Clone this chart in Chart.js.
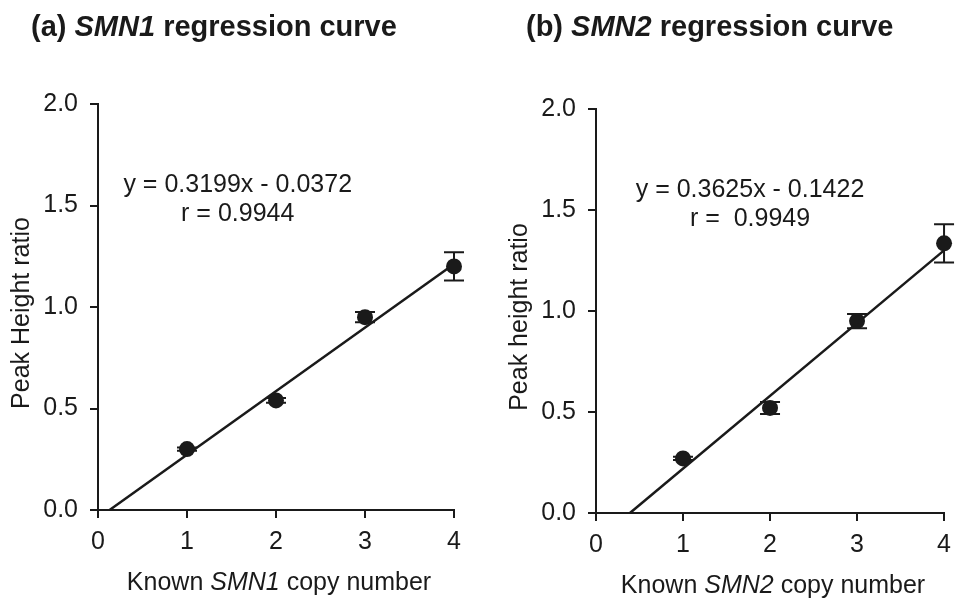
<!DOCTYPE html>
<html>
<head>
<meta charset="utf-8">
<script src="https://cdn.jsdelivr.net/npm/chart.js@4.4.1/dist/chart.umd.min.js"></script>
<style>
  html, body { margin: 0; padding: 0; background: #fff; }
  #wrap { position: relative; width: 960px; height: 605px; overflow: hidden; }
  canvas { position: absolute; top: 0; }
</style>
</head>
<body>
<div id="wrap">
  <canvas id="chart-a" width="480" height="605" style="left:0"></canvas>
  <canvas id="chart-b" width="480" height="605" style="left:480px"></canvas>
</div>
<script>
const xTicks = [0, 1, 2, 3, 4];
const yTicks = [0, 0.5, 1.0, 1.5, 2.0];

// (a) SMN1
const smn1Copies = [1, 2, 3, 4];
const smn1Ratio = [0.30, 0.54, 0.95, 1.20];
const smn1Err = [0.008, 0.012, 0.025, 0.07];
const smn1FitX = [0.13, 3.93];
const smn1FitY = [0, 1.19];
const smn1Equation = ["y = 0.3199x - 0.0372", "r = 0.9944"];

// (b) SMN2
const smn2Copies = [1, 2, 3, 4];
const smn2Ratio = [0.27, 0.52, 0.95, 1.335];
const smn2Err = [0.008, 0.03, 0.035, 0.095];
const smn2FitX = [0.39, 4.0];
const smn2FitY = [0, 1.30];
const smn2Equation = ["y = 0.3625x - 0.1422", "r =  0.9949"];

const INK = "#1a1a1a";
const FONT = "'Liberation Sans', Arial, Helvetica, sans-serif";

function drawMixed(ctx, parts, x, y, size, bold, align) {
  const fontFor = (p) => `${p.italic ? "italic " : ""}${bold ? "bold " : ""}${size}px ${FONT}`;
  let total = 0;
  parts.forEach((p) => {
    ctx.font = fontFor(p);
    total += ctx.measureText(p.text).width;
  });
  let cx = align === "center" ? x - total / 2 : x;
  ctx.textAlign = "left";
  parts.forEach((p) => {
    ctx.font = fontFor(p);
    ctx.fillText(p.text, cx, y);
    cx += ctx.measureText(p.text).width;
  });
}

const panelPlugin = {
  id: "panel",
  beforeDatasetsDraw(chart, args, opts) {
    const { ctx, scales } = chart;
    ctx.save();
    ctx.strokeStyle = INK;
    ctx.lineWidth = 2;
    opts.copies.forEach((c, i) => {
      const px = scales.x.getPixelForValue(c);
      const top = scales.y.getPixelForValue(opts.ratio[i] + opts.err[i]);
      const bot = scales.y.getPixelForValue(opts.ratio[i] - opts.err[i]);
      ctx.beginPath();
      ctx.moveTo(px, top); ctx.lineTo(px, bot);
      ctx.moveTo(px - 10, top); ctx.lineTo(px + 10, top);
      ctx.moveTo(px - 10, bot); ctx.lineTo(px + 10, bot);
      ctx.stroke();
    });
    ctx.restore();
  },
  afterDraw(chart, args, opts) {
    const { ctx, chartArea, scales } = chart;
    ctx.save();
    ctx.fillStyle = INK;
    ctx.textBaseline = "alphabetic";
    drawMixed(ctx, opts.title, opts.titleX, 36, 29, true, "left");

    ctx.textBaseline = "middle";
    const ex = scales.x.getPixelForValue(opts.eqAt[0]);
    const ey = scales.y.getPixelForValue(opts.eqAt[1]);
    ctx.font = `25px ${FONT}`;
    ctx.textAlign = "center";
    ctx.fillText(opts.equation[0], ex, ey);
    ctx.fillText(opts.equation[1], ex, ey + 29);

    drawMixed(ctx, opts.xTitle, (chartArea.left + chartArea.right) / 2 + 3, chartArea.bottom + 73, 25, false, "center");

    ctx.translate(chartArea.left - 76, (chartArea.top + chartArea.bottom) / 2 + 6);
    ctx.rotate(-Math.PI / 2);
    ctx.font = `25px ${FONT}`;
    ctx.textAlign = "center";
    ctx.fillText(opts.yTitle, 0, 0);
    ctx.restore();
  }
};

function makePanel(canvasId, cfg) {
  const axis = {
    grid: { drawOnChartArea: false, drawTicks: true, tickLength: 8, color: INK, lineWidth: 2 },
    border: { display: true, color: INK, width: 2 }
  };
  return new Chart(document.getElementById(canvasId), {
    type: "scatter",
    data: {
      datasets: [
        {
          type: "line",
          data: cfg.fitX.map((x, i) => ({ x, y: cfg.fitY[i] })),
          borderColor: INK,
          borderWidth: 2.5,
          pointRadius: 0,
          fill: false,
          clip: false
        },
        {
          data: cfg.copies.map((x, i) => ({ x, y: cfg.ratio[i] })),
          pointRadius: 8,
          pointBackgroundColor: INK,
          pointBorderColor: INK,
          pointBorderWidth: 0,
          clip: false
        }
      ]
    },
    options: {
      responsive: false,
      animation: false,
      events: [],
      layout: { padding: { top: cfg.top, right: cfg.right, left: 0, bottom: 0 } },
      plugins: {
        legend: { display: false },
        tooltip: { enabled: false },
        panel: cfg.panel
      },
      scales: {
        x: {
          type: "linear",
          min: xTicks[0],
          max: xTicks[xTicks.length - 1],
          afterBuildTicks: (s) => { s.ticks = xTicks.map((v) => ({ value: v })); },
          ticks: { color: INK, font: { family: FONT, size: 25 }, padding: 9, callback: (v) => String(v) },
          afterFit: (s) => { s.height = cfg.xHeight; },
          ...axis
        },
        y: {
          type: "linear",
          min: yTicks[0],
          max: yTicks[yTicks.length - 1],
          afterBuildTicks: (s) => { s.ticks = yTicks.map((v) => ({ value: v })); },
          ticks: { color: INK, font: { family: FONT, size: 25 }, padding: 12, callback: (v) => Number(v).toFixed(1) },
          afterFit: (s) => { s.width = cfg.yWidth; },
          ...axis
        }
      }
    },
    plugins: [panelPlugin]
  });
}

makePanel("chart-a", {
  copies: smn1Copies, ratio: smn1Ratio, fitX: smn1FitX, fitY: smn1FitY,
  top: 104, right: 26, yWidth: 98, xHeight: 95,
  panel: {
    copies: smn1Copies, ratio: smn1Ratio, err: smn1Err,
    title: [{ text: "(a) " }, { text: "SMN1", italic: true }, { text: " regression curve" }],
    titleX: 31,
    equation: smn1Equation, eqAt: [1.57, 1.6],
    xTitle: [{ text: "Known " }, { text: "SMN1", italic: true }, { text: " copy number" }],
    yTitle: "Peak Height ratio"
  }
});

makePanel("chart-b", {
  copies: smn2Copies, ratio: smn2Ratio, fitX: smn2FitX, fitY: smn2FitY,
  top: 109, right: 9, yWidth: 116, xHeight: 92,
  panel: {
    copies: smn2Copies, ratio: smn2Ratio, err: smn2Err,
    title: [{ text: "(b) " }, { text: "SMN2", italic: true }, { text: " regression curve" }],
    titleX: 46,
    equation: smn2Equation, eqAt: [1.77, 1.6],
    xTitle: [{ text: "Known " }, { text: "SMN2", italic: true }, { text: " copy number" }],
    yTitle: "Peak height ratio"
  }
});
</script>
</body>
</html>
